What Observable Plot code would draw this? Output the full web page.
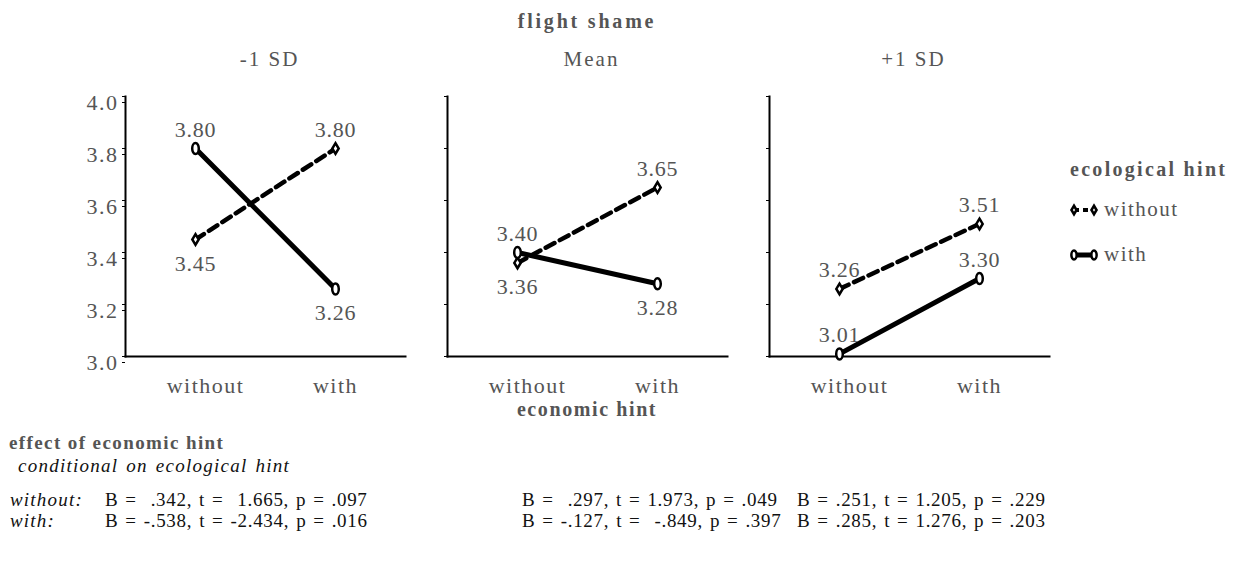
<!DOCTYPE html>
<html><head><meta charset="utf-8">
<script src="https://cdn.jsdelivr.net/npm/d3@7"></script>
<script src="https://cdn.jsdelivr.net/npm/@observablehq/plot@0.6"></script>
<style>
body{margin:0;background:#fff;font-family:"Liberation Serif","Times New Roman",serif;}
#wrap{position:relative;width:1239px;height:575px;overflow:hidden;}
.abs{position:absolute;white-space:pre;line-height:20px;}
</style></head><body><div id="wrap"></div>
<script>
// ---- data ----
const flightShame = ["-1 SD", "Mean", "+1 SD"];
const economicHint = ["without", "with"];
const ecologicalHint = ["without", "with"];
// means per flight-shame level, for economic hint [without, with]
const ecoWithoutMeans = [[3.45, 3.80], [3.36, 3.65], [3.26, 3.51]];
const ecoWithMeans = [[3.80, 3.26], [3.40, 3.28], [3.01, 3.30]];
const yTicks = [3.0, 3.2, 3.4, 3.6, 3.8, 4.0];
const statsWithout = ["B =  .342, t =  1.665, p = .097", "B =  .297, t = 1.973, p = .049", "B = .251, t = 1.205, p = .229"];
const statsWith = ["B = -.538, t = -2.434, p = .016", "B = -.127, t =  -.849, p = .397", "B = .285, t = 1.276, p = .203"];

// ---- table ----
const rows = [];
flightShame.forEach((f, i) => economicHint.forEach((e, j) => {
  rows.push({flight: f, econ: e, eco: "without", value: ecoWithoutMeans[i][j], other: ecoWithMeans[i][j]});
  rows.push({flight: f, econ: e, eco: "with", value: ecoWithMeans[i][j], other: ecoWithoutMeans[i][j]});
}));
const facetMin = new Map(flightShame.map((f, i) => [f, d3.min([...ecoWithoutMeans[i], ...ecoWithMeans[i]])]));
rows.forEach(d => { d.below = d.value < d.other && facetMin.get(d.flight) > 3.1; });

const k = 0.5523;
const ellipseSym = {draw(ctx, size) {
  const ry = Math.sqrt(size) * 0.62, rx = ry * 0.6;
  ctx.moveTo(0, -ry);
  ctx.bezierCurveTo(k * rx, -ry, rx, -k * ry, rx, 0);
  ctx.bezierCurveTo(rx, k * ry, k * rx, ry, 0, ry);
  ctx.bezierCurveTo(-k * rx, ry, -rx, k * ry, -rx, 0);
  ctx.bezierCurveTo(-rx, -k * ry, -k * rx, -ry, 0, -ry);
  ctx.closePath();
}};
const diamondSym = {draw(ctx, size) {
  const r = Math.sqrt(size) * 0.6, w = r * 0.6;
  ctx.moveTo(0, -r); ctx.lineTo(w, 0); ctx.lineTo(0, r); ctx.lineTo(-w, 0); ctx.closePath();
}};

const gray = "#555";
const lineOpts = {fx: "flight", x: "econ", y: "value", stroke: "#000"};
const plot = Plot.plot({
  width: 1060, height: 426,
  marginLeft: 125, marginRight: 11, marginTop: 96, marginBottom: 70,
  style: {fontFamily: "Liberation Serif, Times New Roman, serif", fontSize: "21px", color: gray, background: "transparent", overflow: "visible"},
  fx: {domain: flightShame, paddingInner: 42 / 322, paddingOuter: 0, label: null},
  x: {domain: economicHint, type: "point", padding: 0.5, label: null},
  y: {domain: [3, 4], label: null},
  marks: [
    Plot.axisFx({anchor: "top", tickSize: 0, tickPadding: 31, label: null, fontSize: 21, dx: 4}),
    Plot.axisX({tickSize: 0, tickPadding: 21, label: null, fontSize: 22}),
    Plot.axisY({ticks: yTicks, tickFormat: d3.format(".1f"), tickSize: 3, tickPadding: 4, stroke: "#000", label: null, fontSize: 22, dy: 6}),
    Plot.axisY({ticks: yTicks, tickFormat: () => "", tickSize: 3, stroke: "#000", label: null, facetAnchor: null}),
    Plot.frame({anchor: "left", stroke: "#000", strokeWidth: 2}),
    Plot.frame({anchor: "bottom", stroke: "#000", strokeWidth: 2}),
    Plot.line(rows.filter(d => d.eco === "without"), {...lineOpts, strokeWidth: 4.5, strokeDasharray: "10,6"}),
    Plot.line(rows.filter(d => d.eco === "with"), {...lineOpts, strokeWidth: 5}),
    Plot.dot(rows.filter(d => d.eco === "without"), {fx: "flight", x: "econ", y: "value", symbol: diamondSym, r: 5, fill: "#fff", stroke: "#000", strokeWidth: 2.5}),
    Plot.dot(rows.filter(d => d.eco === "with"), {fx: "flight", x: "econ", y: "value", symbol: ellipseSym, r: 5, fill: "#fff", stroke: "#000", strokeWidth: 2.5}),
    Plot.text(rows.filter(d => !d.below), {fx: "flight", x: "econ", y: "value", text: d => d.value.toFixed(2), dy: -19, fill: gray, fontSize: 22}),
    Plot.text(rows.filter(d => d.below), {fx: "flight", x: "econ", y: "value", text: d => d.value.toFixed(2), dy: 24, fill: gray, fontSize: 22})
  ]
});
const ps = d3.select(plot);
ps.selectAll('[aria-label="x-axis tick label"] text').attr("letter-spacing", "1.5px")
  .filter(function() { return this.textContent === economicHint[0]; })
  .attr("dx", 10);
ps.selectAll('[aria-label="fx-axis tick label"] text').attr("letter-spacing", "2px");
ps.selectAll('[aria-label="y-axis tick label"] text').attr("letter-spacing", "1.5px");
ps.selectAll('[aria-label="text"] text').attr("letter-spacing", "0.8px");

const wrap = document.getElementById("wrap");
plot.style.position = "absolute"; plot.style.left = "0px"; plot.style.top = "0px";
wrap.appendChild(plot);

function addText(txt, left, top, css) {
  const d = document.createElement("div");
  d.className = "abs"; d.textContent = txt;
  d.style.left = left + "px"; d.style.top = top + "px";
  Object.assign(d.style, css || {});
  wrap.appendChild(d);
  return d;
}
// axis titles
addText("flight shame", 0, 11, {width: "1174px", textAlign: "center", fontWeight: "bold", fontSize: "20px", letterSpacing: "2.8px", color: gray});
addText("economic hint", 0, 399, {width: "1174px", textAlign: "center", fontWeight: "bold", fontSize: "20px", letterSpacing: "1.6px", color: gray});

// legend
addText("ecological hint", 1070, 159, {fontWeight: "bold", fontSize: "20px", letterSpacing: "2.3px", color: gray});
function legendRow(label, dashed, top) {
  const s = d3.create("svg").attr("width", 34).attr("height", 16)
    .style("position", "absolute").style("left", "1068px").style("top", top + "px");
  s.append("line").attr("x1", 6).attr("x2", 26).attr("y1", 8).attr("y2", 8)
    .attr("stroke", "#000").attr("stroke-width", dashed ? 4 : 5).attr("stroke-dasharray", dashed ? "5,4" : null);
  [6, 26].forEach(x => {
    const p = d3.path();
    (dashed ? diamondSym : ellipseSym).draw(p, Math.PI * 16);
    s.append("path").attr("d", p.toString()).attr("transform", `translate(${x},8)`)
      .attr("fill", "#fff").attr("stroke", "#000").attr("stroke-width", 2.5);
  });
  wrap.appendChild(s.node());
  addText(label, 1104, top - 3, {fontSize: "21px", letterSpacing: "1.5px", color: gray});
}
legendRow(ecologicalHint[0], true, 202);
legendRow(ecologicalHint[1], false, 247);

// stats
const statCss = {fontSize: "19px", letterSpacing: "0.7px", wordSpacing: "1.5px", color: "#111"};
addText("effect of economic hint", 9, 433, {fontWeight: "bold", fontSize: "19px", letterSpacing: "1.4px", color: gray});
addText("conditional on ecological hint", 18, 456, {fontStyle: "italic", fontSize: "19px", letterSpacing: "1.25px", wordSpacing: "2px", color: "#111"});
addText(ecologicalHint[0] + ":", 10, 490, {fontStyle: "italic", fontSize: "19px", letterSpacing: "1.2px", color: "#111"});
addText(ecologicalHint[1] + ":", 10, 511, {fontStyle: "italic", fontSize: "19px", letterSpacing: "1.2px", color: "#111"});
const cols = [105, 522, 797];
statsWithout.forEach((s, i) => addText(s, cols[i], 490, statCss));
statsWith.forEach((s, i) => addText(s, cols[i], 511, statCss));
</script></body></html>
